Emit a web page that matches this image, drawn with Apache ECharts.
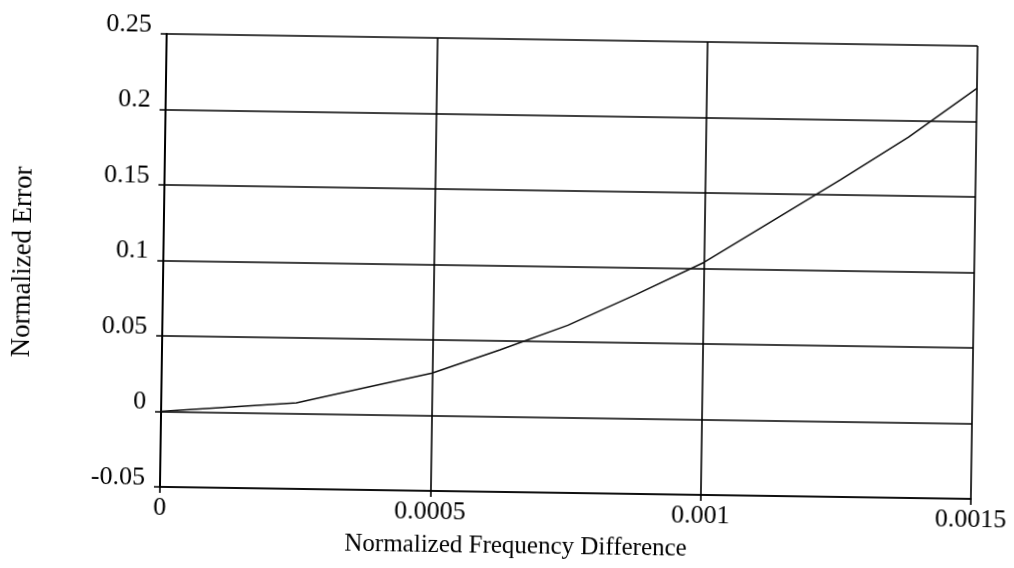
<!DOCTYPE html>
<html>
<head>
<meta charset="utf-8">
<script src="https://cdn.jsdelivr.net/npm/echarts@6/dist/echarts.min.js"></script>
<style>
  html, body { margin: 0; padding: 0; background: #fff; overflow: hidden; }
  #chart { width: 1014px; height: 568px; transform: rotate(0.85deg); transform-origin: 507px 284px; }
</style>
</head>
<body>
<div id="chart"></div>
<script>
// Data
var freqDiff = [0, 0.000125, 0.00025, 0.000375, 0.0005, 0.000625, 0.00075, 0.000875, 0.001, 0.001125, 0.00125, 0.001375, 0.0015];
var normError = [0, 0.0035, 0.007, 0.0175, 0.028, 0.044, 0.061, 0.082, 0.104, 0.132, 0.160, 0.189, 0.222];
var xTickLabels = ['0', '0.0005', '0.001', '0.0015'];
var yTickLabels = ['-0.05', '0', '0.05', '0.1', '0.15', '0.2', '0.25'];
var xTitle = 'Normalized Frequency Difference';
var yTitle = 'Normalized Error';

var seriesData = freqDiff.map(function (x, i) { return [x, normError[i]]; });

var FONT = '"Liberation Serif", "Times New Roman", serif';
var chart = echarts.init(document.getElementById('chart'), null, { renderer: 'canvas' });
chart.setOption({
  backgroundColor: '#ffffff',
  animation: false,
  grid: { left: 163, top: 39, width: 811, height: 453, containLabel: false, show: false },
  xAxis: {
    type: 'value',
    min: 0, max: 0.0015, interval: 0.0005,
    name: xTitle,
    nameLocation: 'middle',
    nameGap: 42,
    nameTextStyle: { fontFamily: FONT, fontSize: 25, color: '#000', padding: [0, 98, 0, 0] },
    axisLine: { show: true, onZero: false, lineStyle: { color: '#000', width: 1.6 } },
    axisTick: { show: true, inside: false, length: 6, lineStyle: { color: '#000', width: 1.6 } },
    axisLabel: {
      fontFamily: FONT, fontSize: 26, color: '#000', margin: 8,
      formatter: function (v, i) { return xTickLabels[i]; }
    },
    splitLine: { show: true, lineStyle: { color: '#000', width: 1.6 } }
  },
  yAxis: {
    type: 'value',
    min: -0.05, max: 0.25, interval: 0.05,
    name: yTitle,
    nameLocation: 'middle',
    nameGap: 127,
    nameTextStyle: { fontFamily: FONT, fontSize: 27, color: '#000', padding: [0, 7, 0, 0] },
    axisLine: { show: true, onZero: false, lineStyle: { color: '#000', width: 2 } },
    axisTick: { show: true, inside: false, length: 6, lineStyle: { color: '#000', width: 1.5 } },
    axisLabel: {
      fontFamily: FONT, fontSize: 26, color: '#000', margin: 15,
      verticalAlign: 'bottom', lineHeight: 18,
      formatter: function (v, i) { return yTickLabels[i]; }
    },
    splitLine: { show: true, lineStyle: { color: '#000', width: 1.5 } }
  },
  series: [{
    type: 'line',
    data: seriesData,
    showSymbol: false,
    smooth: false,
    lineStyle: { color: '#111', width: 1.5 },
    z: 3
  }]
});
</script>
</body>
</html>
